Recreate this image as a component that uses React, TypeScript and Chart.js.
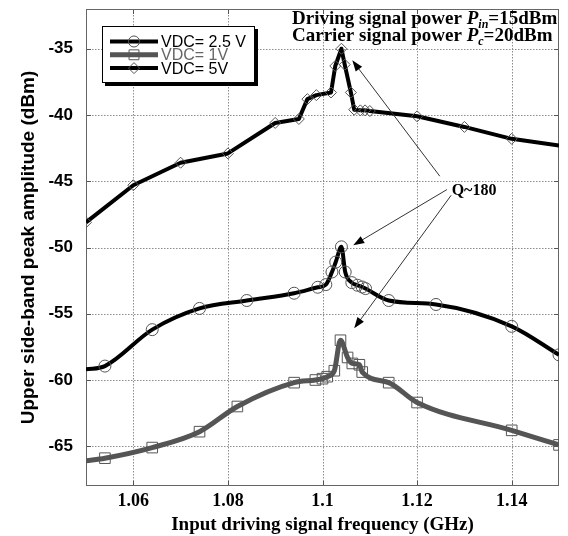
import React, { useEffect, useRef } from "react";
import { Chart, registerables } from "chart.js";
Chart.register(...registerables);

// ---- data ----
const xTicks = [1.06, 1.08, 1.1, 1.12, 1.14];
const yTicks = [-65, -60, -55, -50, -45, -40, -35];

const freq25 = [1.05, 1.054, 1.064, 1.074, 1.084, 1.094, 1.099, 1.1007, 1.102, 1.1028, 1.104, 1.1048, 1.1062, 1.1074, 1.1084, 1.1091, 1.114, 1.124, 1.14, 1.15];
const amp25 = [-59.2, -58.95, -56.2, -54.6, -54.0, -53.45, -53.0, -52.8, -51.85, -51.1, -49.95, -51.85, -52.65, -52.85, -52.98, -53.1, -54.0, -54.3, -55.95, -58.1];
const mark25 = [0, 1, 1, 1, 1, 1, 1, 1, 1, 1, 1, 1, 1, 1, 1, 1, 1, 1, 1, 1];

const freq1 = [1.05, 1.054, 1.064, 1.074, 1.082, 1.094, 1.0985, 1.1, 1.101, 1.1025, 1.1038, 1.1053, 1.1063, 1.1078, 1.1084, 1.114, 1.12, 1.14, 1.15];
const amp1 = [-66.1, -65.9, -65.1, -63.9, -62.0, -60.2, -60.0, -59.9, -59.75, -59.3, -57.0, -58.3, -58.75, -58.85, -59.4, -60.2, -61.7, -63.8, -64.9];
const mark1 = [0, 1, 1, 1, 1, 1, 1, 1, 1, 1, 1, 1, 1, 1, 1, 1, 1, 1, 1];

const freq5 = [1.05, 1.06, 1.07, 1.08, 1.09, 1.095, 1.0968, 1.0987, 1.1018, 1.1027, 1.104, 1.1047, 1.106, 1.1067, 1.108, 1.109, 1.11, 1.12, 1.13, 1.14, 1.15];
const amp5 = [-48.1, -45.3, -43.6, -42.9, -40.6, -40.3, -38.8, -38.5, -38.3, -36.3, -35.0, -36.2, -38.3, -39.6, -39.65, -39.65, -39.7, -40.1, -40.9, -41.8, -42.3];
const mark5 = [1, 1, 1, 1, 1, 1, 1, 1, 1, 1, 1, 1, 1, 1, 1, 1, 1, 1, 1, 1, 0];

const seriesLabels = ["VDC= 2.5 V", "VDC= 1V", "VDC= 5V"];

// annotation (data coordinates)
const qLabel = "Q~180";
const qPos = [1.1273, -45.75];
const arrowFromX = [1.1248, 1.1263, 1.1272];
const arrowFromY = [-44.62, -45.63, -46.06];
const arrowToX = [1.1063, 1.1065, 1.1067];
const arrowToY = [-35.87, -49.83, -56.1];

const SERIF = "'Liberation Serif', 'Times New Roman', serif";
const SANS = "'Liberation Sans', Arial, sans-serif";

const pts = (xs: number[], ys: number[]) => xs.map((x, i) => ({ x, y: ys[i] }));

function drawMarker(ctx: CanvasRenderingContext2D, style: string, x: number, y: number, r: number) {
  ctx.beginPath();
  if (style === "circle") ctx.arc(x, y, r, 0, Math.PI * 2);
  else if (style === "rect") {
    const s = r * Math.SQRT1_2;
    ctx.rect(x - s, y - s, 2 * s, 2 * s);
  } else {
    ctx.moveTo(x - r, y);
    ctx.lineTo(x, y - r);
    ctx.lineTo(x + r, y);
    ctx.lineTo(x, y + r);
    ctx.closePath();
  }
  ctx.stroke();
}

const overlay = {
  id: "overlay",
  beforeDatasetsDraw(chart: any) {
    const { ctx, chartArea: ca, scales } = chart;
    const x = scales.x, y = scales.y;
    ctx.save();
    ctx.lineWidth = 1;
    ctx.strokeStyle = "#8c8c8c";
    ctx.setLineDash([1.5, 1.5]);
    for (const v of xTicks) {
      const px = Math.round(x.getPixelForValue(v)) + 0.5;
      ctx.beginPath(); ctx.moveTo(px, ca.top); ctx.lineTo(px, ca.bottom); ctx.stroke();
    }
    for (const v of yTicks) {
      const py = Math.round(y.getPixelForValue(v)) + 0.5;
      ctx.beginPath(); ctx.moveTo(ca.left, py); ctx.lineTo(ca.right, py); ctx.stroke();
    }
    ctx.setLineDash([]);
    ctx.strokeStyle = "#555";
    const tl = 5;
    for (const v of xTicks) {
      const px = Math.round(x.getPixelForValue(v)) + 0.5;
      ctx.beginPath();
      ctx.moveTo(px, ca.bottom); ctx.lineTo(px, ca.bottom - tl);
      ctx.moveTo(px, ca.top); ctx.lineTo(px, ca.top + tl);
      ctx.stroke();
    }
    for (const v of yTicks) {
      const py = Math.round(y.getPixelForValue(v)) + 0.5;
      ctx.beginPath();
      ctx.moveTo(ca.left, py); ctx.lineTo(ca.left + tl, py);
      ctx.moveTo(ca.right, py); ctx.lineTo(ca.right - tl, py);
      ctx.stroke();
    }
    ctx.strokeStyle = "#666";
    ctx.strokeRect(ca.left + 0.5, ca.top + 0.5, ca.right - ca.left - 1, ca.bottom - ca.top - 1);
    ctx.restore();
  },
  afterDatasetsDraw(chart: any) {
    const { ctx, chartArea: ca, scales } = chart;
    const x = scales.x, y = scales.y;
    ctx.save();

    // arrows
    for (let i = 0; i < arrowFromX.length; i++) {
      const x0 = x.getPixelForValue(arrowFromX[i]);
      const y0 = y.getPixelForValue(arrowFromY[i]);
      const x1 = x.getPixelForValue(arrowToX[i]);
      const y1 = y.getPixelForValue(arrowToY[i]);
      const a = Math.atan2(y1 - y0, x1 - x0);
      const L = 11, W = 4;
      ctx.strokeStyle = "#333";
      ctx.lineWidth = 1;
      ctx.beginPath();
      ctx.moveTo(x0, y0);
      ctx.lineTo(x1 - Math.cos(a) * L * 0.8, y1 - Math.sin(a) * L * 0.8);
      ctx.stroke();
      ctx.fillStyle = "#000";
      ctx.beginPath();
      ctx.moveTo(x1, y1);
      ctx.lineTo(x1 - Math.cos(a) * L - Math.sin(a) * W, y1 - Math.sin(a) * L + Math.cos(a) * W);
      ctx.lineTo(x1 - Math.cos(a) * L + Math.sin(a) * W, y1 - Math.sin(a) * L - Math.cos(a) * W);
      ctx.closePath();
      ctx.fill();
    }
    ctx.fillStyle = "#000";
    ctx.font = `bold 16px ${SERIF}`;
    ctx.textAlign = "left";
    ctx.textBaseline = "middle";
    ctx.fillText(qLabel, x.getPixelForValue(qPos[0]), y.getPixelForValue(qPos[1]));

    // header texts
    const rich = (x0: number, yb: number, parts: [string, string, number][]) => {
      let cx = x0;
      for (const [t, f, dy] of parts) {
        ctx.font = f;
        ctx.fillText(t, cx, yb + dy);
        cx += ctx.measureText(t).width;
      }
    };
    ctx.textBaseline = "alphabetic";
    const hx = ca.left + 206;
    const B = `bold 19px ${SERIF}`;
    const BI = `italic bold 19px ${SERIF}`;
    const SUB = `italic bold 12px ${SERIF}`;
    rich(hx, ca.top + 15, [["Driving signal power ", B, 0], ["P", BI, 0], ["in", SUB, 4], ["=15dBm", B, 0]]);
    rich(hx, ca.top + 32, [["Carrier signal power ", B, 0], ["P", BI, 0], ["c", SUB, 4], ["=20dBm", B, 0]]);

    // legend
    const lx = ca.left + 16, ly = ca.top + 17, lw = 153, lh = 57;
    ctx.fillStyle = "#000";
    ctx.fillRect(lx + 3, ly + 3, lw, lh);
    ctx.fillStyle = "#fff";
    ctx.fillRect(lx, ly, lw, lh);
    ctx.strokeStyle = "#000";
    ctx.lineWidth = 1;
    ctx.strokeRect(lx + 0.5, ly + 0.5, lw - 1, lh - 1);
    const lcol = ["#000", "#555", "#000"];
    const tcol = ["#000", "#666", "#000"];
    const lstyle = ["circle", "rect", "diamond"];
    const lwid = [4, 5, 4];
    ctx.font = `16px ${SANS}`;
    ctx.textBaseline = "middle";
    for (let i = 0; i < 3; i++) {
      const ry = ly + 15.5 + i * 13.3;
      ctx.strokeStyle = lcol[i];
      ctx.lineWidth = lwid[i];
      ctx.beginPath(); ctx.moveTo(lx + 8, ry); ctx.lineTo(lx + 56, ry); ctx.stroke();
      ctx.strokeStyle = "#555";
      ctx.lineWidth = 1;
      drawMarker(ctx, lstyle[i], lx + 32, ry, lstyle[i] === "rect" ? 7 : 5.5);
      ctx.fillStyle = tcol[i];
      ctx.fillText(seriesLabels[i], lx + 59, ry + 1);
    }

    // axis titles
    ctx.fillStyle = "#000";
    ctx.textAlign = "center";
    ctx.textBaseline = "alphabetic";
    ctx.font = `bold 19px ${SERIF}`;
    ctx.fillText("Input driving signal frequency (GHz)", (ca.left + ca.right) / 2, 530);
    ctx.save();
    ctx.translate(29, (ca.top + ca.bottom) / 2);
    ctx.rotate(-Math.PI / 2);
    ctx.textBaseline = "middle";
    ctx.font = `bold 19px ${SANS}`;
    ctx.fillText("Upper side-band peak amplitude (dBm)", 0, 0);
    ctx.restore();

    ctx.restore();
  },
};

export default function App() {
  const ref = useRef<HTMLCanvasElement>(null);
  useEffect(() => {
    if (!ref.current) return;
    const mk = (label: string, xs: number[], ys: number[], marks: number[], color: string, width: number, style: string, r: number, smooth: boolean) => ({
      label,
      data: pts(xs, ys),
      borderColor: color,
      borderWidth: width,
      backgroundColor: "rgba(0,0,0,0)",
      pointStyle: style,
      pointRadius: marks.map((m) => (m ? r : 0)),
      pointBorderColor: "#555",
      pointBorderWidth: 1,
      pointBackgroundColor: "rgba(0,0,0,0)",
      pointHoverRadius: 0,
      cubicInterpolationMode: smooth ? "monotone" : "default",
      tension: smooth ? 0.3 : 0,
      borderJoinStyle: "round",
      fill: false,
    });
    const chart = new Chart(ref.current, {
      type: "line",
      data: {
        datasets: [
          mk(seriesLabels[1], freq1, amp1, mark1, "#555", 5, "rect", 7.5, true),
          mk(seriesLabels[0], freq25, amp25, mark25, "#000", 4, "circle", 6, true),
          mk(seriesLabels[2], freq5, amp5, mark5, "#000", 4, "rectRot", 5.5, false),
        ] as any,
      },
      options: {
        responsive: false,
        animation: false,
        events: [],
        layout: { padding: { left: 0, right: 9, top: 9, bottom: 0 } },
        plugins: { legend: { display: false }, tooltip: { enabled: false } },
        scales: {
          x: {
            type: "linear",
            min: 1.05,
            max: 1.15,
            grid: { display: false, drawTicks: false },
            border: { display: false },
            ticks: {
              color: "#000",
              padding: 5,
              autoSkip: false,
              maxRotation: 0,
              font: { family: SERIF, size: 18, weight: "bold" },
              callback: (v: any) => String(Number(Number(v).toFixed(2))),
            },
            afterBuildTicks: (s: any) => { s.ticks = xTicks.map((v) => ({ value: v })); },
            afterFit: (s: any) => { s.height = 50; s.paddingLeft = 0; s.paddingRight = 0; },
          },
          y: {
            type: "linear",
            min: -68,
            max: -32,
            grid: { display: false, drawTicks: false },
            border: { display: false },
            ticks: {
              color: "#000",
              padding: 13,
              autoSkip: false,
              font: { family: SANS, size: 17, weight: "bold" },
              callback: (v: any) => String(v),
            },
            afterBuildTicks: (s: any) => { s.ticks = yTicks.map((v) => ({ value: v })); },
            afterFit: (s: any) => { s.width = 86; s.paddingTop = 0; s.paddingBottom = 0; },
          },
        },
      } as any,
      plugins: [overlay],
    });
    return () => chart.destroy();
  }, []);
  return (
    <div style={{ position: "absolute", left: 0, top: 0, width: 568, height: 536, background: "#fff" }}>
      <canvas ref={ref} width={568} height={536} style={{ display: "block", width: 568, height: 536 }} />
    </div>
  );
}
